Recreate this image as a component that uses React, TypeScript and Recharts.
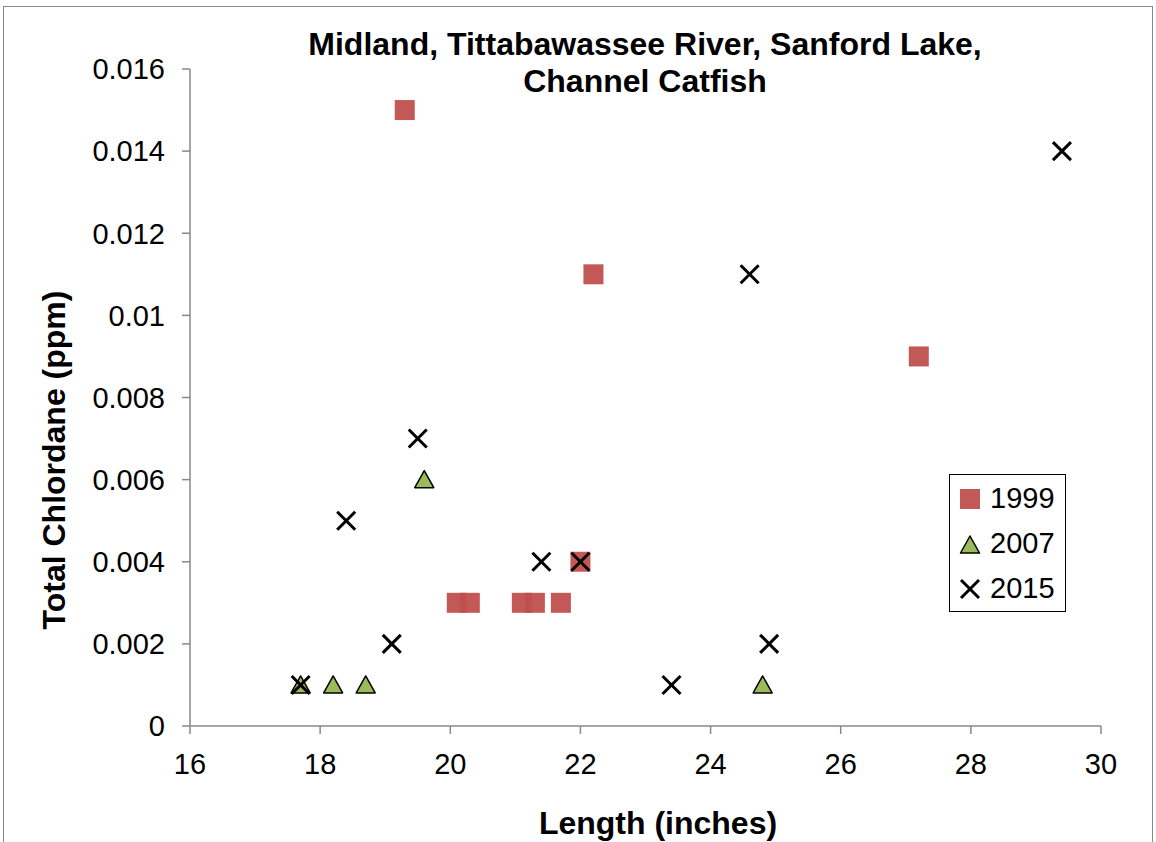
import React from "react";
import { ScatterChart, Scatter, XAxis, YAxis } from "recharts";

// Length (inches) and total chlordane (ppm) per sample year
const len1999 = [19.3, 22.2, 27.2, 22.0, 20.1, 20.3, 21.1, 21.3, 21.7];
const chl1999 = [0.015, 0.011, 0.009, 0.004, 0.003, 0.003, 0.003, 0.003, 0.003];

const len2007 = [17.7, 18.2, 18.7, 19.6, 24.8];
const chl2007 = [0.001, 0.001, 0.001, 0.006, 0.001];

const len2015 = [17.7, 18.4, 19.5, 19.1, 21.4, 22.0, 23.4, 24.9, 24.6, 29.4];
const chl2015 = [0.001, 0.005, 0.007, 0.002, 0.004, 0.004, 0.001, 0.002, 0.011, 0.014];

const xTicks = [16, 18, 20, 22, 24, 26, 28, 30];
const yTicks = [0, 0.002, 0.004, 0.006, 0.008, 0.01, 0.012, 0.014, 0.016];

const toPoints = (xs: number[], ys: number[]) => xs.map((x, i) => ({ x, y: ys[i] }));

const FONT = '"Liberation Sans", Arial, sans-serif';
const AXIS = "#898989";
const RED = "#C0504D";
const GREEN = "#9BBB59";

const Square = ({ cx, cy }: any) => (
  <rect x={cx - 10} y={cy - 10} width={20} height={20} fill={RED} fillOpacity={0.95} />
);

const Triangle = ({ cx, cy }: any) => (
  <polygon
    points={`${cx},${cy - 9} ${cx + 9.5},${cy + 8} ${cx - 9.5},${cy + 8}`}
    fill={GREEN}
    stroke="#000"
    strokeWidth={1.5}
    strokeLinejoin="round"
  />
);

const Cross = ({ cx, cy }: any) => (
  <g stroke="#000" strokeWidth={3}>
    <line x1={cx - 9} y1={cy - 9} x2={cx + 9} y2={cy + 9} />
    <line x1={cx - 9} y1={cy + 9} x2={cx + 9} y2={cy - 9} />
  </g>
);

function LegendBox() {
  const row = (icon: React.ReactNode, label: string) => (
    <div style={{ display: "flex", alignItems: "center", height: 45 }}>
      <svg width={30} height={30}>{icon}</svg>
      <span style={{ marginLeft: 5 }}>{label}</span>
    </div>
  );
  return (
    <div
      style={{
        position: "absolute",
        left: 949,
        top: 474,
        width: 117,
        height: 138,
        border: "1.5px solid #000",
        background: "#fff",
        fontFamily: FONT,
        fontSize: 29,
        paddingLeft: 5,
        paddingTop: 1,
        boxSizing: "border-box",
      }}
    >
      {row(<Square cx={15} cy={15} />, "1999")}
      {row(<Triangle cx={15} cy={16} />, "2007")}
      {row(<Cross cx={15} cy={15} />, "2015")}
    </div>
  );
}

export default function App() {
  return (
    <div style={{ position: "relative", width: 1156, height: 842, background: "#fff" }}>
      <style>{`body{margin:0}`}</style>
      <div
        style={{
          position: "absolute",
          left: 3,
          top: 6,
          width: 1150,
          height: 842,
          border: "1.5px solid #8a8a8a",
          boxSizing: "border-box",
        }}
      />
      <ScatterChart
        width={1156}
        height={842}
        margin={{ top: 69, right: 55, bottom: 56, left: 0 }}
      >
        <XAxis
          type="number"
          dataKey="x"
          domain={[16, 30]}
          ticks={xTicks}
          height={60}
          stroke={AXIS}
          strokeWidth={1.5}
          tickSize={8}
          tickMargin={19}
          tick={{ fill: "#000", fontSize: 29, fontFamily: FONT }}
          label={() => (
            <text
              x={658}
              y={834}
              textAnchor="middle"
              fontFamily={FONT}
              fontSize={32}
              fontWeight="bold"
              fill="#000"
            >
              Length (inches)
            </text>
          )}
        />
        <YAxis
          type="number"
          dataKey="y"
          domain={[0, 0.016]}
          ticks={yTicks}
          width={190}
          stroke={AXIS}
          strokeWidth={1.5}
          tickSize={8}
          tickMargin={17}
          tickFormatter={(v: number) => (v === 0 ? "0" : String(v))}
          tick={{ fill: "#000", fontSize: 29, fontFamily: FONT }}
          label={() => (
            <text
              x={0}
              y={0}
              transform="translate(65 460) rotate(-90)"
              textAnchor="middle"
              fontFamily={FONT}
              fontSize={32}
              fontWeight="bold"
              fill="#000"
            >
              Total Chlordane (ppm)
            </text>
          )}
        />
        <Scatter name="1999" data={toPoints(len1999, chl1999)} shape={Square} isAnimationActive={false} />
        <Scatter name="2007" data={toPoints(len2007, chl2007)} shape={Triangle} isAnimationActive={false} />
        <Scatter name="2015" data={toPoints(len2015, chl2015)} shape={Cross} isAnimationActive={false} />
      </ScatterChart>
      <div
        style={{
          position: "absolute",
          left: 0,
          width: 1290,
          top: 26,
          textAlign: "center",
          fontFamily: FONT,
          fontWeight: "bold",
          fontSize: 32,
          lineHeight: "37px",
        }}
      >
        Midland, Tittabawassee River, Sanford Lake,
        <br />
        Channel Catfish
      </div>
      <LegendBox />
    </div>
  );
}
